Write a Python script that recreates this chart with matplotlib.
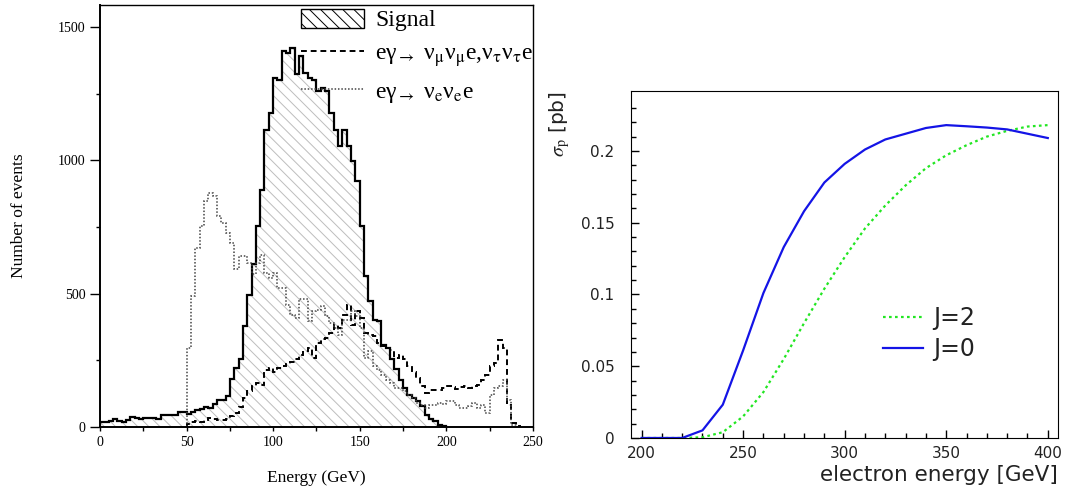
import numpy as np
import matplotlib.pyplot as plt
from matplotlib.patches import Patch
from matplotlib.lines import Line2D

plt.rcParams['mathtext.fontset'] = 'stix'
plt.rcParams['hatch.linewidth'] = 0.7

# ---- left panel: energy histograms (2.5 GeV bins, 0-250 GeV) ----
bin_edges = np.arange(0, 252.5, 2.5)

# signal, bins 0 .. 200 GeV
signal = [19, 19, 21, 29, 21, 19, 25, 37, 34, 31,
          35, 34, 32, 31, 44, 44, 44, 46, 55, 55,
          49, 56, 65, 69, 75, 71, 88, 102, 102, 115,
          181, 221, 256, 380, 496, 611, 752, 890, 1115, 1177,
          1309, 1299, 1409, 1402, 1421, 1325, 1390, 1327, 1309, 1299,
          1259, 1271, 1259, 1177, 1115, 1052, 1112, 1052, 996, 921,
          752, 565, 471, 402, 396, 309, 296, 256, 219, 175,
          146, 121, 109, 96, 77, 46, 31, 21, 9, 2]

# e gamma -> nu_mu nu_mu e, nu_tau nu_tau e, bins 50 .. 242.5 GeV
bkg_mutau = [12, 17, 21, 17, 25, 34, 30, 25, 25, 30,
             40, 52, 75, 109, 134, 152, 165, 159, 215, 221,
             205, 221, 227, 236, 242, 255, 271, 284, 296, 259,
             315, 330, 334, 352, 384, 371, 421, 459, 384, 434,
             409, 352, 346, 340, 315, 302, 296, 290, 259, 271,
             255, 227, 205, 184, 152, 127, 140, 137, 140, 146,
             155, 150, 142, 149, 152, 146, 152, 159, 177, 196,
             227, 240, 325, 296, 84, 15, 2]

# e gamma -> nu_e nu_e e, bins 50 .. 240 GeV
bkg_e = [296, 492, 671, 752, 846, 877, 865, 790, 765, 727,
         690, 592, 640, 642, 615, 575, 615, 646, 577, 559,
         577, 521, 521, 459, 421, 409, 480, 480, 399, 434,
         440, 452, 417, 390, 371, 346, 402, 402, 434, 415,
         371, 259, 284, 227, 215, 196, 177, 165, 146, 146,
         134, 121, 109, 90, 84, 71, 84, 84, 90, 86,
         96, 99, 84, 71, 71, 80, 90, 71, 84, 52,
         121, 146, 152, 177, 102, 9]

# ---- right panel: cross section vs electron energy ----
e_energy = [200, 210, 220, 230, 240, 250, 260, 270, 280, 290, 300,
            310, 320, 330, 340, 350, 360, 370, 380, 390, 400]
sigma_j0 = [0, 0, 0, 0.0053, 0.0232, 0.061, 0.101, 0.133, 0.158, 0.178, 0.191,
            0.201, 0.208, 0.212, 0.216, 0.218, 0.2172, 0.2163, 0.215, 0.212, 0.209]
sigma_j2 = [0, 0, 0, 0.0005, 0.004, 0.015, 0.032, 0.055, 0.080, 0.104, 0.126,
            0.146, 0.162, 0.176, 0.188, 0.197, 0.204, 0.210, 0.214, 0.217, 0.218]

fig = plt.figure(figsize=(10.68, 4.93), dpi=100)
ax1 = fig.add_axes([0.0936, 0.1339, 0.4054, 0.856])
ax2 = fig.add_axes([0.5908, 0.1116, 0.3998, 0.7039])

serif = 'Liberation Serif'
dash_style = (0, (3, 2))
dot_style = (0, (1, 1.2))
dot_color = '#444444'

n_sig = len(signal)
ax1.stairs(signal, bin_edges[:n_sig + 1], fill=True, facecolor='none',
           edgecolor='#bdbdbd', hatch='\\\\\\', linewidth=0)
ax1.stairs(signal, bin_edges[:n_sig + 1], color='black', linewidth=1.6)
ax1.stairs(bkg_mutau, bin_edges[20:20 + len(bkg_mutau) + 1], color='black',
           linewidth=1.4, linestyle=dash_style)
ax1.stairs(bkg_e, bin_edges[20:20 + len(bkg_e) + 1], color=dot_color,
           linewidth=1.1, linestyle=dot_style)

ax1.set_xlim(0, 250)
ax1.set_ylim(0, 1582)
ax1.set_xticks([0, 50, 100, 150, 200, 250])
ax1.set_xticks([25, 75, 125, 175, 225], minor=True)
ax1.set_yticks([0, 500, 1000, 1500])
ax1.set_yticks([250, 750, 1250], minor=True)
ax1.tick_params(axis='y', which='major', direction='out', length=7, width=1)
ax1.tick_params(axis='y', which='minor', direction='out', length=3, width=1)
ax1.tick_params(axis='x', which='both', direction='out', length=3, width=1)
for lab in ax1.get_xticklabels() + ax1.get_yticklabels():
    lab.set_fontfamily(serif)
    lab.set_fontsize(10)
ax1.set_xlabel('Energy (GeV)', family=serif, fontsize=12.5, labelpad=15)
ax1.set_ylabel('Number of events', family=serif, fontsize=12.5, labelpad=22)
for sp in ax1.spines.values():
    sp.set_linewidth(1.0)
ax1.spines['left'].set_linewidth(1.4)
ax1.spines['bottom'].set_linewidth(1.4)

handles1 = [Patch(facecolor='white', edgecolor='black', hatch='\\\\\\', linewidth=1),
            Line2D([], [], color='black', linewidth=1.4, linestyle=dash_style),
            Line2D([], [], color=dot_color, linewidth=1.1, linestyle=dot_style)]
labels1 = ['Signal',
           'eγ$_{\\rightarrow}$ ν$_{\\mathrm{\\mu}}$ν$_{\\mathrm{\\mu}}$e,'
           'ν$_{\\mathrm{\\tau}}$ν$_{\\mathrm{\\tau}}$e',
           'eγ$_{\\rightarrow}$ ν$_{\\mathrm{e}}$ν$_{\\mathrm{e}}$e']
ax1.legend(handles1, labels1, loc='upper left', bbox_to_anchor=(0.455, 1.0),
           frameon=False, prop={'family': serif, 'size': 17},
           handlelength=2.7, handleheight=0.9, handletextpad=0.45,
           labelspacing=0.45, borderpad=0.15, borderaxespad=0)

# right panel
ax2.plot(e_energy, sigma_j2, color='#22e622', linewidth=1.6,
         linestyle=(0, (1.2, 1.5)), label='J=2')
ax2.plot(e_energy, sigma_j0, color='#1414e6', linewidth=1.6, label='J=0')
ax2.set_xlim(194.8, 405)
ax2.set_ylim(0, 0.2418)
ax2.set_xticks([200, 250, 300, 350, 400])
ax2.set_xticks(np.arange(210, 400, 10), minor=True)
ax2.set_yticks([0, 0.05, 0.1, 0.15, 0.2])
ax2.set_yticks(np.arange(0.01, 0.24, 0.01), minor=True)
ax2.set_yticklabels(['0', '0.05', '0.1', '0.15', '0.2'])
ax2.tick_params(which='major', direction='in', length=6, width=1,
                labelsize=11, labelcolor='#222222')
ax2.tick_params(axis='y', which='major', pad=12)
ax2.tick_params(axis='x', which='major', pad=6)
ax2.tick_params(which='minor', direction='in', length=3.5, width=1)
ax2.set_xlabel('electron energy [GeV]', fontsize=15.5, color='#222222',
               loc='right', labelpad=3)
ax2.set_ylabel('$\\sigma_{\\rm p}$ [pb]', fontsize=14.5, color='#222222',
               loc='top', labelpad=6)
ax2.legend(loc='upper left', bbox_to_anchor=(0.59, 0.38), frameon=False,
           fontsize=17, handlelength=1.7, handletextpad=0.45,
           labelspacing=0.3, borderpad=0, borderaxespad=0,
           labelcolor='#222222')

fig.savefig('out.png', dpi=100, facecolor='white')
